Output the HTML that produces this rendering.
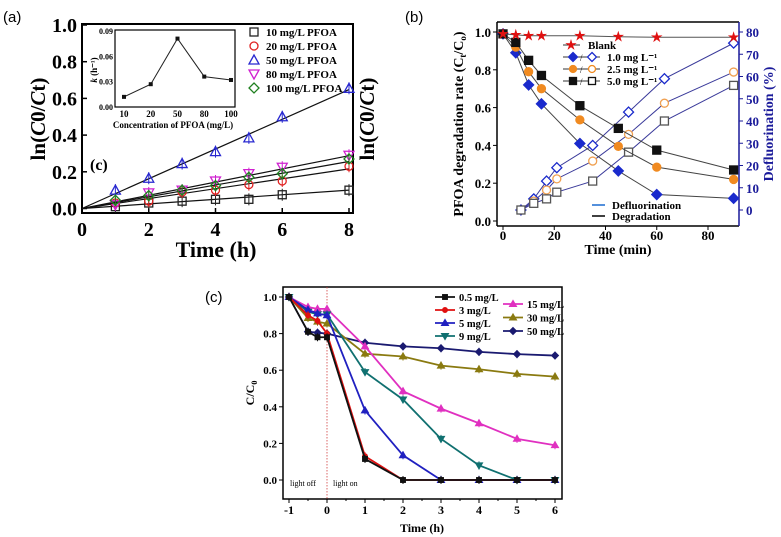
<!DOCTYPE html>
<html><head><meta charset="utf-8"><style>
body{margin:0;background:#fff}
svg{display:block;font-family:"Liberation Serif",serif}
.b{font-weight:bold}
</style></head><body>
<svg id="s" width="781" height="537" viewBox="0 0 781 537">
<g id="A"></g>
<g id="B"></g>
<g id="C"></g>
</svg>
<script>
// ===== Panel (a) data =====
const aTimes=[0,1,2,3,4,5,6,8];
const aS10=[0,0.01,0.03,0.04,0.05,0.05,0.075,0.10];
const aS20=[0,0.03,0.04,0.09,0.10,0.13,0.15,0.23];
const aS50=[0,0.10,0.165,0.245,0.31,0.385,0.50,0.655];
const aS80=[0,0.02,0.085,0.10,0.15,0.19,0.225,0.29];
const aS100=[0,0.045,0.07,0.10,0.125,0.17,0.19,0.27];
const aSlopes=[0.0125,0.027,0.081,0.036,0.032];
const aXTicks=[0,2,4,6,8];
const aYTicks=[0,0.2,0.4,0.6,0.8,1.0];
const insetCats=[10,20,50,80,100];
const insetK=[0.012,0.027,0.081,0.036,0.032];
const insetYTicks=[0,0.03,0.06,0.09];
// ===== Panel (b) data =====
const bTimes=[0,5,10,15,30,45,60,90];
const bBlank=[0.99,0.985,0.98,0.98,0.98,0.975,0.972,0.972];
const bDeg1=[0.99,0.89,0.72,0.62,0.41,0.265,0.14,0.12];
const bDeg25=[0.99,0.92,0.79,0.70,0.535,0.395,0.285,0.22];
const bDeg5=[0.99,0.945,0.85,0.77,0.61,0.49,0.375,0.27];
const bDefTimes=[7,12,17,21,35,49,63,90];
const bDef1=[0,5,13,19,29,44,59,75];
const bDef25=[0,4,9,14,22,34,48,62];
const bDef5=[0,3,5,8,13,26,40,56];
const bXTicks=[0,20,40,60,80];
const bYTicks=[0,0.2,0.4,0.6,0.8,1.0];
const bY2Ticks=[0,10,20,30,40,50,60,70,80];
// ===== Panel (c) data =====
const cTimes=[-1,-0.5,-0.25,0,1,2,3,4,5,6];
const c05=[1,0.81,0.78,0.78,0.115,0,0,0,0,0];
const c3=[1,0.90,0.87,0.80,0.13,0,0,0,0,0];
const c5=[1,0.93,0.91,0.90,0.38,0.135,0,0,0,0];
const c9=[1,0.92,0.905,0.905,0.59,0.44,0.225,0.08,0,0];
const c15=[1,0.945,0.935,0.935,0.73,0.485,0.39,0.31,0.225,0.19];
const c30=[1,0.885,0.865,0.855,0.69,0.675,0.625,0.605,0.58,0.565];
const c50=[1,0.81,0.805,0.80,0.75,0.73,0.72,0.70,0.688,0.68];
const cXTicks=[-1,0,1,2,3,4,5,6];
const cYTicks=[0,0.2,0.4,0.6,0.8,1.0];

const NS="http://www.w3.org/2000/svg";
function mk(p,tag,at,txt){const e=document.createElementNS(NS,tag);for(const k in at)e.setAttribute(k,at[k]);if(txt!==undefined)e.textContent=txt;p.appendChild(e);return e;}
function pts(xs,ys,fx,fy){return xs.map((x,i)=>fx(x)+","+fy(ys[i])).join(" ");}
function marker(g,shape,x,y,col,fill,sz){
  let e;const s=sz||4;
  if(shape==="sq")e=mk(g,"rect",{x:x-s,y:y-s,width:2*s,height:2*s,fill:fill,stroke:col,"stroke-width":1.3});
  else if(shape==="ci")e=mk(g,"circle",{cx:x,cy:y,r:s,fill:fill,stroke:col,"stroke-width":1.3});
  else if(shape==="tu")e=mk(g,"polygon",{points:`${x},${y-s-1} ${x-s-1},${y+s} ${x+s+1},${y+s}`,fill:fill,stroke:col,"stroke-width":1.3});
  else if(shape==="td")e=mk(g,"polygon",{points:`${x},${y+s+1} ${x-s-1},${y-s} ${x+s+1},${y-s}`,fill:fill,stroke:col,"stroke-width":1.3});
  else if(shape==="di")e=mk(g,"polygon",{points:`${x},${y-s-1} ${x+s+1},${y} ${x},${y+s+1} ${x-s-1},${y}`,fill:fill,stroke:col,"stroke-width":1.3});
  else if(shape==="st"){let p=[];for(let i=0;i<10;i++){const r=i%2?s*0.45:s*1.2;const a=-Math.PI/2+i*Math.PI/5;p.push((x+r*Math.cos(a)).toFixed(1)+","+(y+r*Math.sin(a)).toFixed(1));}e=mk(g,"polygon",{points:p.join(" "),fill:col});}
  return e;
}

// ===== Panel A =====
(function(){
const g=document.getElementById("A");
const X0=82,X1=353,Y0=24,Y1=213;
const fx=t=>82+t*(349-82)/8, fy=v=>208.5-v*183.5;
mk(g,"text",{x:3,y:22,"font-family":"Liberation Sans, sans-serif","font-size":15}).textContent="(a)";
const bx=mk(g,"rect",{x:X0,y:Y0,width:X1-X0,height:Y1-Y0,fill:"none",stroke:"#000","stroke-width":2});


aXTicks.forEach(t=>{mk(g,"line",{x1:fx(t),x2:fx(t),y1:Y1,y2:Y1-5,stroke:"#000","stroke-width":1.5});
 const e=mk(g,"text",{x:fx(t),y:236,"text-anchor":"middle","font-size":20,class:"b"},t);
 });
aYTicks.forEach(v=>{mk(g,"line",{x1:X0,x2:X0+5,y1:fy(v),y2:fy(v),stroke:"#000","stroke-width":1.5});
 const e=mk(g,"text",{x:X0-5,y:fy(v)+7,"text-anchor":"end","font-size":20,class:"b"},v.toFixed(1));
 });
let t=mk(g,"text",{x:216,y:257,"text-anchor":"middle","font-size":22,class:"b"},"Time (h)");

t=mk(g,"text",{transform:"translate(45,119) rotate(-90)","text-anchor":"middle","font-size":21,class:"b"});
t.innerHTML='ln(<tspan font-style="italic">C</tspan>0/<tspan font-style="italic">C</tspan>t)';

t=mk(g,"text",{transform:"translate(374,119) rotate(-90)","text-anchor":"middle","font-size":21,class:"b"});
t.innerHTML='ln(<tspan font-style="italic">C</tspan>0/<tspan font-style="italic">C</tspan>t)';

mk(g,"text",{x:90,y:170,"font-size":16,class:"b"},"(c)");
const ser=[[aS10,"#222","sq","10 mg/L PFOA"],[aS20,"#e02020","ci","20 mg/L PFOA"],[aS50,"#2828d0","tu","50 mg/L PFOA"],[aS80,"#d020d0","td","80 mg/L PFOA"],[aS100,"#208020","di","100 mg/L PFOA"]];
ser.forEach((s,i)=>{
 const l=mk(g,"line",{x1:fx(0),y1:fy(0),x2:fx(8),y2:fy(aSlopes[i]*8),stroke:"#111","stroke-width":1.2});
 
 aTimes.forEach((tt,j)=>{ if(j===0)return;
  mk(g,"line",{x1:fx(tt),x2:fx(tt),y1:fy(s[0][j])-6,y2:fy(s[0][j])+6,stroke:s[1],"stroke-width":1});
  const m=marker(g,s[2],fx(tt),fy(s[0][j]),s[1],"none",4);
  });
 const ly=32+i*14;
 const lm=marker(g,s[2],254,ly,s[1],"none",4);
 
 const lt=mk(g,"text",{x:266,y:ly+4,"font-size":11,class:"b"},s[3]);
 
});
// inset
const ix=c=>124+insetCats.indexOf(c)*26.75, iy=v=>107-v*(76/0.09);
mk(g,"rect",{x:115,y:30,width:120,height:77,fill:"#fff",stroke:"#000","stroke-width":1.2});
const il=mk(g,"polyline",{points:insetCats.map((c,i)=>ix(c)+","+iy(insetK[i])).join(" "),fill:"none",stroke:"#222","stroke-width":1});

insetCats.forEach((c,i)=>{const r=mk(g,"rect",{x:ix(c)-2,y:iy(insetK[i])-2,width:4,height:4,fill:"#111"});
 
 mk(g,"text",{x:ix(c),y:117,"text-anchor":"middle","font-size":9,class:"b"},c);});
insetYTicks.forEach(v=>mk(g,"text",{x:113,y:iy(v)+3,"text-anchor":"end","font-size":8,class:"b"},v.toFixed(2)));
mk(g,"text",{x:173,y:128,"text-anchor":"middle","font-size":9,class:"b"},"Concentration of PFOA (mg/L)");
t=mk(g,"text",{transform:"translate(97,70) rotate(-90)","text-anchor":"middle","font-size":9,class:"b"});
t.innerHTML='<tspan font-style="italic">k</tspan> (h⁻¹)';
})();

// ===== Panel B =====
(function(){
const g=document.getElementById("B");
const X0=497,X1=739,Y0=22,Y1=226;
const fx=t=>503+t*2.5625, fy=v=>221-v*189, fy2=p=>210-p*(178/80);
mk(g,"text",{x:405,y:22,"font-family":"Liberation Sans, sans-serif","font-size":15}).textContent="(b)";
mk(g,"line",{x1:X0,y1:Y0,x2:X0,y2:Y1,stroke:"#000","stroke-width":1.5});
mk(g,"line",{x1:X0,y1:Y1,x2:X1,y2:Y1,stroke:"#000","stroke-width":1.5});
mk(g,"line",{x1:X0,y1:Y0,x2:X1,y2:Y0,stroke:"#000","stroke-width":1.5});
mk(g,"line",{x1:X1,y1:Y0,x2:X1,y2:Y1,stroke:"#1a1a9a","stroke-width":1.5});
bXTicks.forEach(v=>{mk(g,"line",{x1:fx(v),x2:fx(v),y1:Y1,y2:Y1+4,stroke:"#000"});
 mk(g,"text",{x:fx(v),y:240,"text-anchor":"middle","font-size":13,class:"b"},v);});
bYTicks.forEach(v=>{mk(g,"line",{x1:X0-4,x2:X0,y1:fy(v),y2:fy(v),stroke:"#000"});
 mk(g,"text",{x:X0-6,y:fy(v)+5,"text-anchor":"end","font-size":13,class:"b"},v.toFixed(1));});
bY2Ticks.forEach(v=>{mk(g,"line",{x1:X1,x2:X1+4,y1:fy2(v),y2:fy2(v),stroke:"#1a1a9a"});
 mk(g,"text",{x:X1+7,y:fy2(v)+5,"font-size":13,class:"b",fill:"#1a1a9a"},v);});
mk(g,"text",{x:618,y:254,"text-anchor":"middle","font-size":14,class:"b"},"Time (min)");
let t=mk(g,"text",{transform:"translate(463,124) rotate(-90)","text-anchor":"middle","font-size":14,class:"b"});
t.innerHTML='PFOA degradation rate (C<tspan font-size="9" dy="3">t</tspan><tspan dy="-3">/C</tspan><tspan font-size="9" dy="3">o</tspan><tspan dy="-3">)</tspan>';

t=mk(g,"text",{transform:"translate(773,124) rotate(-90)","text-anchor":"middle","font-size":14,class:"b",fill:"#1a1a9a"},"Defluorination (%)");

const deg=[[bDeg1,"#1a2acc","di"],[bDeg25,"#f08a20","ci"],[bDeg5,"#111","sq"]];
const def=[[bDef1,"#1a2acc","di"],[bDef25,"#f0a050","ci"],[bDef5,"#555","sq"]];
def.forEach(s=>{const l=mk(g,"polyline",{points:pts(bDefTimes,s[0],fx,fy2),fill:"none",stroke:"#3a3a9a","stroke-width":1});
 
 bDefTimes.forEach((tt,j)=>{const m=marker(g,s[2],fx(tt),fy2(s[0][j]),s[1],"#fff",4);});});
deg.forEach(s=>{const l=mk(g,"polyline",{points:pts(bTimes,s[0],fx,fy),fill:"none",stroke:"#444","stroke-width":1});
 
 bTimes.forEach((tt,j)=>{const m=marker(g,s[2],fx(tt),fy(s[0][j]),s[1],s[1],4);});});
const bl=mk(g,"polyline",{points:pts(bTimes,bBlank,fx,fy),fill:"none",stroke:"#555","stroke-width":1});

bTimes.forEach((tt,j)=>{const m=marker(g,"st",fx(tt),fy(bBlank[j]),"#e01010","#e01010",5);});
// legend
mk(g,"line",{x1:563,x2:580,y1:45,y2:45,stroke:"#333"});marker(g,"st",571,45,"#e01010","",5);
mk(g,"text",{x:588,y:49,"font-size":11,class:"b"},"Blank");
const labs=["1.0 mg L⁻¹","2.5 mg L⁻¹","5.0 mg L⁻¹"];
deg.forEach((s,i)=>{const y=57+i*12;
 mk(g,"line",{x1:563,x2:600,y1:y,y2:y,stroke:"#333"});
 marker(g,s[2],573,y,s[1],s[1],3.5);mk(g,"text",{x:580,y:y+4,"font-size":9},"/");
 marker(g,s[2],592,y,s[1],"#fff",3.5);
 const e=mk(g,"text",{x:607,y:y+4,"font-size":11,class:"b"},labs[i]);
 });
mk(g,"line",{x1:592,x2:605,y1:205,y2:205,stroke:"#1a6ad0","stroke-width":1.5});
mk(g,"text",{x:612,y:209,"font-size":11,class:"b"},"Defluorination");
mk(g,"line",{x1:592,x2:605,y1:216,y2:216,stroke:"#000","stroke-width":1.5});
mk(g,"text",{x:612,y:220,"font-size":11,class:"b"},"Degradation");
})();

// ===== Panel C =====
(function(){
const g=document.getElementById("C");
const X0=283,X1=562,Y0=287,Y1=499;
const fx=t=>289+(t+1)*38, fy=v=>480-v*183;
mk(g,"text",{x:205,y:302,"font-family":"Liberation Sans, sans-serif","font-size":15}).textContent="(c)";
const bx=mk(g,"rect",{x:X0,y:Y0,width:X1-X0,height:Y1-Y0,fill:"none",stroke:"#000","stroke-width":1.5});

cXTicks.forEach((v,i)=>{mk(g,"line",{x1:fx(v),x2:fx(v),y1:Y1,y2:Y1+4,stroke:"#000"});
 if(i<cXTicks.length-1)mk(g,"line",{x1:fx(v)+19,x2:fx(v)+19,y1:Y1,y2:Y1+2,stroke:"#000"});
 mk(g,"text",{x:fx(v),y:514,"text-anchor":"middle","font-size":12,class:"b"},v);});
cYTicks.forEach(v=>{mk(g,"line",{x1:X0-4,x2:X0,y1:fy(v),y2:fy(v),stroke:"#000"});
 mk(g,"text",{x:X0-6,y:fy(v)+4,"text-anchor":"end","font-size":11,class:"b"},v.toFixed(1));});
mk(g,"text",{x:422,y:532,"text-anchor":"middle","font-size":12,class:"b"},"Time (h)");
let t=mk(g,"text",{transform:"translate(254,393) rotate(-90)","text-anchor":"middle","font-size":12,class:"b"});
t.innerHTML='C/C<tspan font-size="8" dy="3">0</tspan>';
mk(g,"line",{x1:fx(0),x2:fx(0),y1:Y0,y2:Y1,stroke:"#d04040","stroke-width":0.8,"stroke-dasharray":"1.5,1.5"});
mk(g,"text",{x:290,y:486,"font-size":8},"light off");
mk(g,"text",{x:333,y:486,"font-size":8},"light on");
const ser=[[c05,"#111","sq","0.5 mg/L"],[c3,"#e01010","ci","3 mg/L"],[c5,"#2020c0","tu","5 mg/L"],[c9,"#107070","td","9 mg/L"],[c15,"#e030c0","tu","15 mg/L"],[c30,"#8a7a10","tu","30 mg/L"],[c50,"#1a1a70","di","50 mg/L"]];
[6,5,4,3,2,1,0].forEach(i=>{const s=ser[i];
 const l=mk(g,"polyline",{points:pts(cTimes,s[0],fx,fy),fill:"none",stroke:s[1],"stroke-width":1.8});
 
 cTimes.forEach((tt,j)=>{mk(g,"line",{x1:fx(tt),x2:fx(tt),y1:fy(s[0][j])-4,y2:fy(s[0][j])+4,stroke:s[1]});
  const m=marker(g,s[2],fx(tt),fy(s[0][j]),s[1],s[1],2.3);});});
ser.forEach((s,i)=>{const col=i<4?0:1, r=i<4?i:i-4;
 const x=col?503:435, y=col?304+r*13.5:297+r*13;
 mk(g,"line",{x1:x,x2:x+20,y1:y,y2:y,stroke:s[1],"stroke-width":1.8});
 marker(g,s[2],x+10,y,s[1],s[1],2.3);
 const e=mk(g,"text",{x:x+24,y:y+4,"font-size":10.5,class:"b"},s[3]);
 });
})();
</script>
</body></html>
